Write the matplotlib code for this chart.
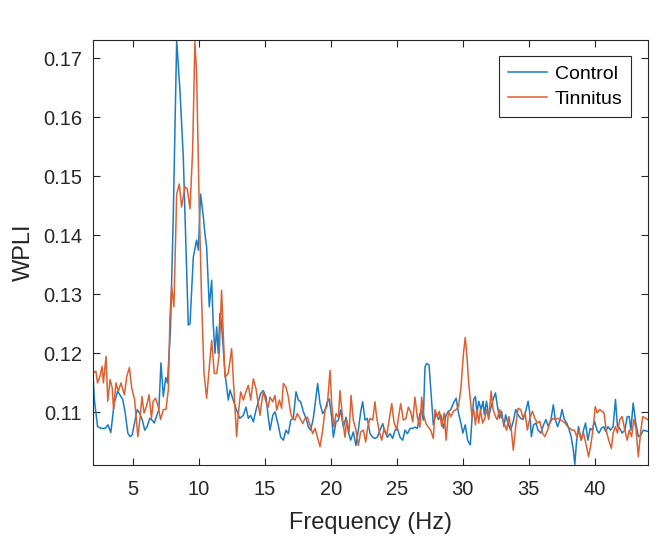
import matplotlib
matplotlib.use("Agg")
import matplotlib.pyplot as plt

# WPLI spectra (frequency in Hz, value)
control_freq = [2.0, 2.08, 2.33, 2.6, 2.9, 3.12, 3.33, 3.59, 3.85, 4.1, 4.23, 4.41, 4.62, 4.79, 4.95,
                5.13, 5.33, 5.51, 5.72, 5.9, 6.08, 6.28, 6.46, 6.62, 6.79, 6.97, 7.13, 7.31, 7.49, 7.62,
                7.85, 8.06, 8.32, 8.57, 8.82, 9.2, 9.33, 9.58, 9.83, 9.96, 10.13, 10.34, 10.46, 10.59,
                10.79, 10.97, 11.09, 11.22, 11.35, 11.47, 11.6, 11.72, 11.98, 12.23, 12.36, 12.6, 12.86,
                13.1, 13.37, 13.57, 13.75, 13.93, 14.13, 14.33, 14.5, 14.68, 14.88, 15.09, 15.26, 15.39,
                15.6, 15.77, 16.02, 16.2, 16.4, 16.6, 16.78, 16.96, 17.16, 17.36, 17.54, 17.71, 17.92,
                18.12, 18.3, 18.47, 18.67, 18.87, 19.0, 19.18, 19.38, 19.56, 19.73, 19.88, 20.06, 20.19,
                20.39, 20.57, 20.74, 20.95, 21.15, 21.32, 21.5, 21.7, 21.9, 22.08, 22.26, 22.41, 22.59,
                22.76, 22.97, 23.17, 23.34, 23.52, 23.72, 23.93, 24.1, 24.28, 24.48, 24.68, 24.86, 25.04,
                25.24, 25.44, 25.62, 25.8, 26.0, 26.2, 26.37, 26.55, 26.75, 26.88, 27.0, 27.13, 27.26,
                27.44, 27.64, 27.76, 27.97, 28.15, 28.33, 28.53, 28.73, 28.91, 29.09, 29.29, 29.49,
                29.67, 29.85, 30.0, 30.18, 30.36, 30.56, 30.69, 30.82, 30.95, 31.07, 31.2, 31.38, 31.53,
                31.63, 31.79, 31.96, 32.14, 32.29, 32.47, 32.6, 32.78, 32.93, 33.11, 33.24, 33.41, 33.62,
                33.82, 34.0, 34.18, 34.38, 34.56, 34.76, 34.94, 35.07, 35.19, 35.35, 35.53, 35.7, 35.91,
                36.11, 36.29, 36.47, 36.67, 36.85, 37.0, 37.18, 37.36, 37.51, 37.69, 37.87, 38.02, 38.2,
                38.37, 38.48, 38.6, 38.76, 38.96, 39.14, 39.29, 39.47, 39.65, 39.8, 39.98, 40.16, 40.31,
                40.49, 40.67, 40.82, 41.0, 41.17, 41.38, 41.56, 41.71, 41.89, 42.06, 42.27, 42.45, 42.6,
                42.73, 42.9, 43.08, 43.29, 43.49, 43.67, 44.0]
control_wpli = [0.1156, 0.1122, 0.1076, 0.1073, 0.1073, 0.1079, 0.1066, 0.1116, 0.1136, 0.1127, 0.1122,
                0.1101, 0.1065, 0.1059, 0.1062, 0.1082, 0.1105, 0.1099, 0.1087, 0.1070, 0.1076, 0.1090,
                0.1087, 0.1082, 0.1093, 0.1105, 0.1184, 0.1127, 0.1159, 0.1150, 0.1240, 0.1431, 0.1730,
                0.1645, 0.1533, 0.1248, 0.1250, 0.1363, 0.1392, 0.1375, 0.1470, 0.1431, 0.1403, 0.1380,
                0.1279, 0.1324, 0.1250, 0.1200, 0.1245, 0.1200, 0.1268, 0.1250, 0.1166, 0.1121, 0.1138,
                0.1121, 0.1104, 0.1090, 0.1095, 0.1109, 0.1090, 0.1095, 0.1084, 0.1104, 0.1118, 0.1132,
                0.1137, 0.1126, 0.1092, 0.1070, 0.1095, 0.1101, 0.1078, 0.1058, 0.1053, 0.1070, 0.1064,
                0.1087, 0.1090, 0.1135, 0.1121, 0.1118, 0.1101, 0.1090, 0.1075, 0.1070, 0.1090, 0.1126,
                0.1149, 0.1115, 0.1098, 0.1104, 0.1118, 0.1123, 0.1092, 0.1058, 0.1084, 0.1087, 0.1104,
                0.1075, 0.1092, 0.1067, 0.1053, 0.1067, 0.1044, 0.1070, 0.1101, 0.1118, 0.1087, 0.1090,
                0.1064, 0.1058, 0.1056, 0.1058, 0.1070, 0.1081, 0.1067, 0.1058, 0.1064, 0.1056, 0.1070,
                0.1073, 0.1058, 0.1053, 0.1070, 0.1064, 0.1073, 0.1073, 0.1075, 0.1073, 0.1098, 0.1104,
                0.1087, 0.1177, 0.1183, 0.1180, 0.1118, 0.1079, 0.1099, 0.1088, 0.1096, 0.1073, 0.1096,
                0.1102, 0.1105, 0.1116, 0.1124, 0.1099, 0.1082, 0.1065, 0.1079, 0.1053, 0.1045, 0.1088,
                0.1122, 0.1127, 0.1099, 0.1119, 0.1105, 0.1119, 0.1096, 0.1119, 0.1093, 0.1110, 0.1122,
                0.1133, 0.1113, 0.1090, 0.1102, 0.1076, 0.1096, 0.1082, 0.1070, 0.1085, 0.1105, 0.1096,
                0.1090, 0.1088, 0.1102, 0.1119, 0.1099, 0.1059, 0.1079, 0.1082, 0.1070, 0.1065, 0.1079,
                0.1088, 0.1076, 0.1088, 0.1113, 0.1088, 0.1076, 0.1088, 0.1105, 0.1088, 0.1082, 0.1073,
                0.1059, 0.1036, 0.1012, 0.1048, 0.1076, 0.1053, 0.1070, 0.1082, 0.1053, 0.1073, 0.1070,
                0.1085, 0.1070, 0.1065, 0.1073, 0.1076, 0.1068, 0.1076, 0.1070, 0.1076, 0.1122, 0.1076,
                0.1073, 0.1065, 0.1070, 0.1093, 0.1093, 0.1070, 0.1116, 0.1085, 0.1059, 0.1062, 0.1070,
                0.1068]

tinnitus_freq = [2.0, 2.2, 2.33, 2.51, 2.67, 2.77, 2.97, 3.1, 3.28, 3.44, 3.54, 3.72, 3.9, 4.1, 4.36,
                 4.54, 4.74, 4.92, 5.13, 5.26, 5.38, 5.56, 5.69, 5.85, 6.03, 6.23, 6.41, 6.54, 6.72,
                 6.92, 7.1, 7.31, 7.51, 7.69, 7.81, 7.94, 8.11, 8.32, 8.52, 8.69, 8.95, 9.12, 9.33,
                 9.53, 9.7, 9.83, 10.03, 10.21, 10.39, 10.59, 10.79, 10.97, 11.17, 11.35, 11.55, 11.72,
                 11.98, 12.23, 12.48, 12.66, 12.86, 12.99, 13.17, 13.37, 13.57, 13.75, 13.93, 14.13,
                 14.33, 14.5, 14.63, 14.76, 14.88, 15.09, 15.26, 15.39, 15.6, 15.77, 15.9, 16.1, 16.27,
                 16.4, 16.6, 16.78, 16.96, 17.1, 17.28, 17.46, 17.66, 17.87, 18.04, 18.22, 18.42, 18.62,
                 18.8, 18.98, 19.18, 19.38, 19.56, 19.73, 19.94, 20.06, 20.24, 20.39, 20.57, 20.69,
                 20.9, 21.07, 21.2, 21.38, 21.53, 21.7, 21.9, 22.08, 22.26, 22.46, 22.64, 22.79, 22.97,
                 23.17, 23.34, 23.47, 23.67, 23.85, 24.03, 24.23, 24.43, 24.61, 24.78, 24.99, 25.11,
                 25.29, 25.49, 25.69, 25.87, 26.05, 26.2, 26.37, 26.55, 26.75, 26.88, 27.0, 27.21,
                 27.39, 27.56, 27.76, 27.89, 28.07, 28.22, 28.4, 28.58, 28.73, 28.91, 29.09, 29.29,
                 29.49, 29.67, 29.85, 30.05, 30.18, 30.31, 30.44, 30.56, 30.69, 30.82, 30.95, 31.07,
                 31.2, 31.33, 31.5, 31.66, 31.79, 31.96, 32.14, 32.29, 32.47, 32.6, 32.78, 32.93, 33.11,
                 33.31, 33.49, 33.67, 33.82, 34.0, 34.18, 34.38, 34.56, 34.71, 34.89, 35.07, 35.27,
                 35.45, 35.65, 35.83, 36.03, 36.21, 36.42, 36.59, 36.8, 36.98, 37.18, 37.36, 37.56,
                 37.74, 37.94, 38.12, 38.27, 38.45, 38.63, 38.78, 38.96, 39.14, 39.34, 39.52, 39.67,
                 39.85, 40.03, 40.18, 40.36, 40.54, 40.69, 40.87, 41.05, 41.25, 41.38, 41.56, 41.71,
                 41.89, 42.06, 42.27, 42.45, 42.6, 42.78, 42.95, 43.11, 43.29, 43.46, 43.62, 44.0]
tinnitus_wpli = [0.1167, 0.1170, 0.1150, 0.1161, 0.1178, 0.1150, 0.1195, 0.1119, 0.1156, 0.1141, 0.1105,
                 0.1150, 0.1136, 0.1150, 0.1130, 0.1161, 0.1176, 0.1141, 0.1122, 0.1090, 0.1059, 0.1093,
                 0.1127, 0.1099, 0.1110, 0.1130, 0.1090, 0.1119, 0.1124, 0.1110, 0.1088, 0.1105, 0.1105,
                 0.1139, 0.1262, 0.1313, 0.1279, 0.1470, 0.1487, 0.1448, 0.1482, 0.1479, 0.1445, 0.1544,
                 0.1728, 0.1674, 0.1448, 0.1290, 0.1166, 0.1124, 0.1177, 0.1222, 0.1166, 0.1166, 0.1200,
                 0.1307, 0.1160, 0.1166, 0.1208, 0.1137, 0.1059, 0.1098, 0.1135, 0.1121, 0.1135, 0.1146,
                 0.1121, 0.1157, 0.1140, 0.1115, 0.1095, 0.1118, 0.1135, 0.1118, 0.1109, 0.1126, 0.1118,
                 0.1129, 0.1104, 0.1121, 0.1107, 0.1149, 0.1143, 0.1126, 0.1098, 0.1090, 0.1087, 0.1098,
                 0.1090, 0.1081, 0.1090, 0.1092, 0.1078, 0.1064, 0.1073, 0.1058, 0.1042, 0.1070, 0.1104,
                 0.1112, 0.1171, 0.1115, 0.1075, 0.1098, 0.1092, 0.1137, 0.1087, 0.1058, 0.1087, 0.1067,
                 0.1129, 0.1087, 0.1070, 0.1044, 0.1067, 0.1070, 0.1050, 0.1075, 0.1090, 0.1087, 0.1118,
                 0.1092, 0.1067, 0.1053, 0.1073, 0.1061, 0.1090, 0.1115, 0.1084, 0.1070, 0.1090, 0.1115,
                 0.1087, 0.1090, 0.1109, 0.1101, 0.1084, 0.1126, 0.1092, 0.1075, 0.1126, 0.1098, 0.1081,
                 0.1075, 0.1070, 0.1056, 0.1105, 0.1093, 0.1102, 0.1076, 0.1099, 0.1053, 0.1102, 0.1093,
                 0.1102, 0.1105, 0.1110, 0.1141, 0.1201, 0.1227, 0.1195, 0.1150, 0.1122, 0.1093, 0.1105,
                 0.1079, 0.1105, 0.1082, 0.1105, 0.1082, 0.1090, 0.1105, 0.1088, 0.1136, 0.1105, 0.1093,
                 0.1088, 0.1105, 0.1093, 0.1082, 0.1070, 0.1093, 0.1070, 0.1036, 0.1076, 0.1107, 0.1105,
                 0.1090, 0.1099, 0.1070, 0.1090, 0.1102, 0.1090, 0.1082, 0.1085, 0.1065, 0.1059, 0.1070,
                 0.1082, 0.1090, 0.1088, 0.1090, 0.1088, 0.1085, 0.1082, 0.1076, 0.1073, 0.1070, 0.1070,
                 0.1059, 0.1070, 0.1053, 0.1065, 0.1045, 0.1025, 0.1042, 0.1070, 0.1110, 0.1099, 0.1105,
                 0.1102, 0.1099, 0.1068, 0.1053, 0.1039, 0.1065, 0.1076, 0.1065, 0.1088, 0.1093, 0.1070,
                 0.1053, 0.1070, 0.1059, 0.1088, 0.1073, 0.1025, 0.1065, 0.1093, 0.1088]

x_ticks = [5, 10, 15, 20, 25, 30, 35, 40]
y_ticks = [0.11, 0.12, 0.13, 0.14, 0.15, 0.16, 0.17]

plt.rcParams['font.family'] = ['Liberation Sans', 'DejaVu Sans']
text_col = '#262626'

fig = plt.figure(figsize=(6.66, 5.36), dpi=100)
ax = fig.add_axes([0.140, 0.1325, 0.8325, 0.793])

ax.plot(control_freq, control_wpli, color='#1A7CC4', lw=1.1, label='Control')
ax.plot(tinnitus_freq, tinnitus_wpli, color='#DE6030', lw=1.1, label='Tinnitus')

ax.set_xlim(2, 44)
ax.set_ylim(0.1011, 0.1731)
ax.set_xticks(x_ticks)
ax.set_yticks(y_ticks)
ax.set_yticklabels(['%.2f' % v for v in y_ticks])
ax.tick_params(direction='in', length=5, width=0.8, top=True, right=True,
               labelsize=14.5, colors=text_col)
ax.tick_params(axis='x', pad=11)
ax.tick_params(axis='y', pad=8)
for s in ax.spines.values():
    s.set_color(text_col)
    s.set_linewidth(0.8)

ax.set_xlabel('Frequency (Hz)', fontsize=17, color=text_col, labelpad=9)
ax.set_ylabel('WPLI', fontsize=17, color=text_col, labelpad=6)

leg = ax.legend(loc='upper right', fontsize=14, fancybox=False, framealpha=1,
                edgecolor=text_col, borderaxespad=0.85, handlelength=2.0,
                handletextpad=0.4, borderpad=0.45, labelspacing=0.4)
leg.get_frame().set_linewidth(0.8)

fig.savefig('out.png', dpi=100)
